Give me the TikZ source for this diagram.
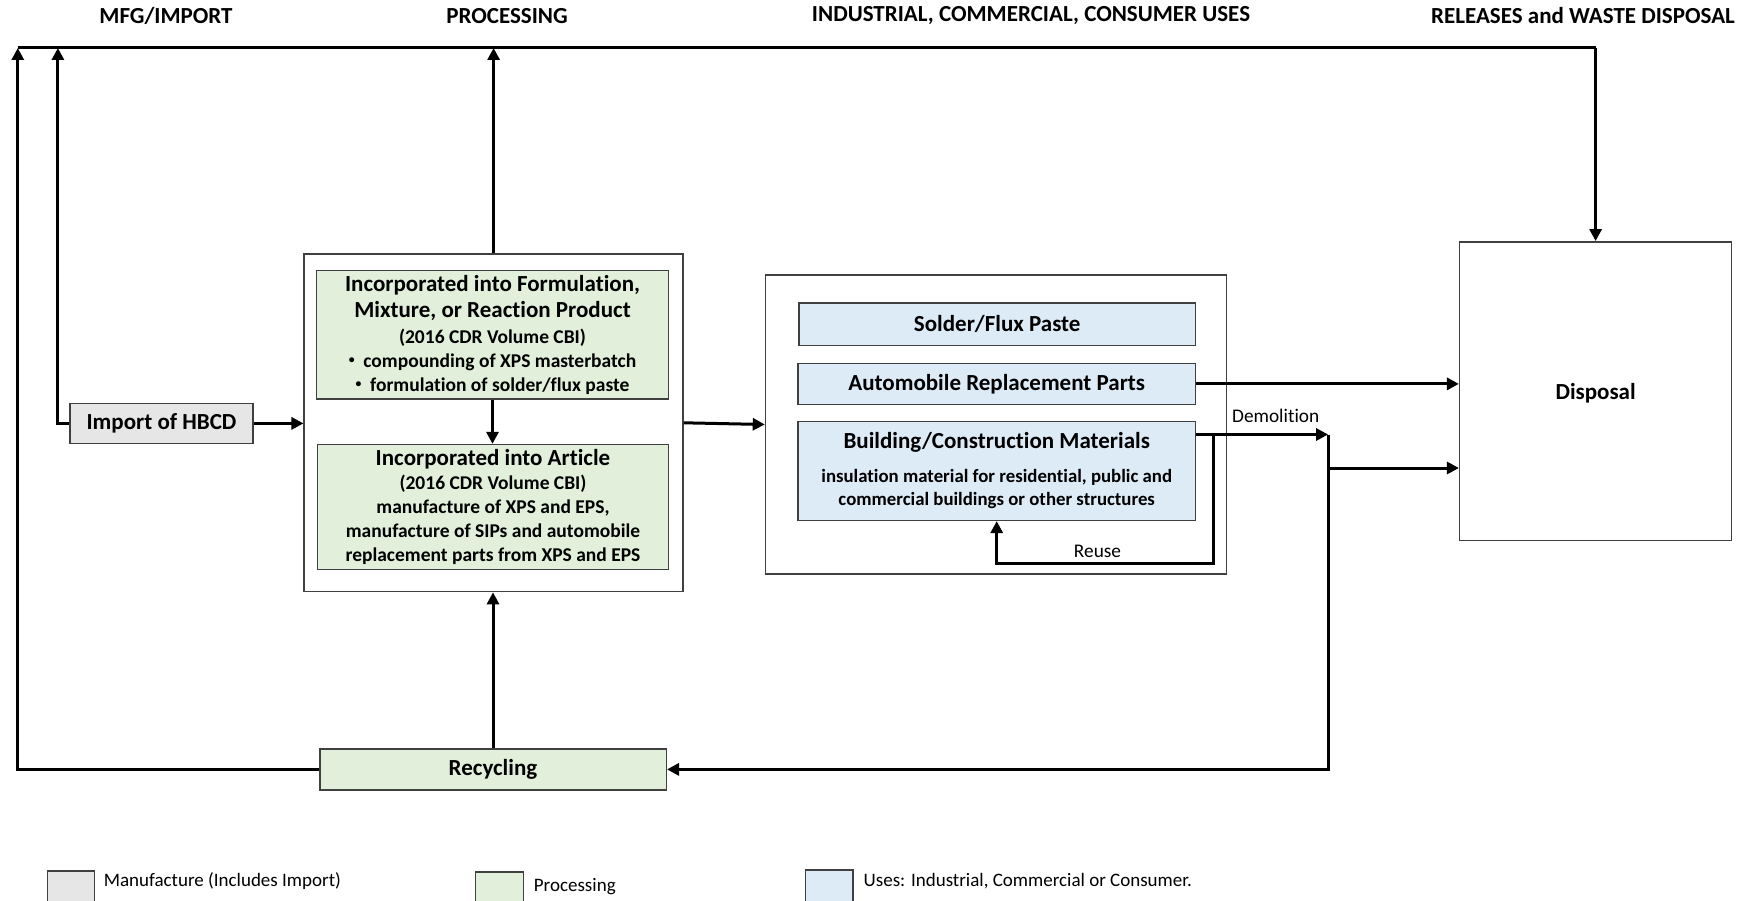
\documentclass[tikz,border=0pt]{standalone}
\usepackage{fontspec}
\setmainfont{Carlito}[Ligatures=NoCommon,Contextuals=NoAlternate]
\usetikzlibrary{arrows.meta}

\definecolor{mfggray}{RGB}{230,230,230}
\definecolor{procgreen}{RGB}{226,239,218}
\definecolor{useblue}{RGB}{221,235,247}
\definecolor{edgegray}{RGB}{64,64,64}

% small list bullet
\newcommand{\smallbul}{\raisebox{0.18em}{\scalebox{0.6}{\textbullet}}\hspace{0.45em}}

\begin{document}
\begin{tikzpicture}[x=1pt,y=-1pt,
  box/.style={draw=edgegray,line width=1.5pt,inner sep=0pt,align=center},
  mfgbox/.style={box,fill=mfggray},
  procbox/.style={box,fill=procgreen},
  usebox/.style={box,fill=useblue},
  framebox/.style={draw=edgegray,line width=1.5pt,fill=white,inner sep=0pt},
  header/.style={font=\fontsize{23}{26}\selectfont\bfseries},
  boxtitle/.style={font=\fontsize{23}{26}\selectfont\bfseries},
  lbl/.style={font=\fontsize{19.3}{22}\selectfont,inner sep=0pt},
  legtext/.style={font=\fontsize{19}{22}\selectfont,anchor=west,inner sep=0pt},
  wire/.style={line width=3pt},
  flow/.style={wire,-{Triangle[length=12pt,width=12pt]}}
]
\clip (0,0) rectangle (1747,901);
\useasboundingbox (0,0) rectangle (1747,901);

% column headers
\node[header] (hmfg) at (166,15.6) {MFG/IMPORT};
\node[header] (hproc) at (507,15.6) {PROCESSING};
\node[header] (huse) at (1031,15.6) {INDUSTRIAL, COMMERCIAL, CONSUMER USES};
\node[header] (hrel) at (1583,15.6) {RELEASES and WASTE DISPOSAL};

% manufacture
\node[mfgbox,boxtitle,minimum width=182.7pt,minimum height=40.2pt] (import) at (161.5,423.4) {Import of HBCD};

% processing
\node[framebox,minimum width=378.8pt,minimum height=337.6pt] (proc) at (493.6,422.8) {};
\node[procbox,minimum width=352.1pt,minimum height=128.2pt,
      font=\fontsize{19.5}{24}\selectfont\bfseries] (form) at (492.5,334.8)
  {{\fontsize{23}{24}\selectfont Incorporated into Formulation,}\\[2.5pt]
   {\fontsize{23}{24}\selectfont Mixture, or Reaction Product}\\[1.5pt]
   (2016 CDR Volume CBI)\\
   \smallbul compounding of XPS masterbatch\\
   \smallbul formulation of solder/flux paste};
\node[procbox,minimum width=351pt,minimum height=124.8pt,
      font=\fontsize{19.5}{24}\selectfont\bfseries] (art) at (493,507)
  {{\fontsize{23}{24}\selectfont Incorporated into Article}\\
   (2016 CDR Volume CBI)\\
   manufacture of XPS and EPS,\\
   manufacture of SIPs and automobile\\
   replacement parts from XPS and EPS};
\node[procbox,boxtitle,minimum width=346.5pt,minimum height=41.3pt] (recyc) at (493,769.4) {Recycling};

% uses
\node[framebox,minimum width=461.2pt,minimum height=298.6pt] (uses) at (996.1,424.5) {};
\node[usebox,boxtitle,minimum width=396.6pt,minimum height=42.4pt] (solder) at (997.2,324.2) {Solder/Flux Paste};
\node[usebox,boxtitle,minimum width=397.7pt,minimum height=41.3pt] (auto) at (996.7,383.9) {Automobile Replacement Parts};
\node[usebox,minimum width=397.7pt,minimum height=99.1pt,
      font=\fontsize{18.8}{23.4}\selectfont\bfseries] (build) at (996.7,470.8)
  {{\fontsize{23}{26}\selectfont Building/Construction Materials}\\[10pt]
   insulation material for residential, public and\\
   commercial buildings or other structures};

% disposal
\node[framebox,minimum width=271.9pt,minimum height=298.6pt] (disposal) at (1595.6,391.1) {};
\node[boxtitle] (disptext) at (1595.6,393.3) {Disposal};

% return line along the top
\coordinate (tl) at (17.8,48);
\coordinate (tl2) at (57.9,48);
\coordinate (tr) at (1595.6,48);
\draw[wire] (tl) -- (tr);
\draw[flow] (tr) -- (disposal.north);
\draw[flow] (recyc.west) -| (tl);
\draw[flow] (import.west) -| (tl2);
\draw[flow] (proc.north) -- (proc.north |- tl);

% main flow
\draw[flow] (import.east) -- (import.east -| proc.west);
\draw[flow] (form.south) -- (form.south |- art.north);
\draw[flow] (recyc.north) -- (recyc.north |- proc.south);
\draw[flow] (proc.east) -- (uses.west);
\draw[flow] (auto.east) -- (auto.east -| disposal.west);

% end of life of building materials
\coordinate (dem) at (1328.1,434.5);
\coordinate (br) at (1328.1,468);
\coordinate (ru) at (1213.4,434.5);
\coordinate (rb) at (1213.4,563.8);
\draw[flow] (build.east |- dem) -- (dem);
\draw[flow] (dem) |- (recyc.east);
\draw[flow] (br) -- (br -| disposal.west);
\draw[flow] (ru) -- (rb) -| (build.south);
\node[lbl] (demlbl) at (1275.7,415.6) {Demolition};
\node[lbl] (reuselbl) at (1097.5,551.5) {Reuse};

% legend
\node[mfgbox,minimum width=46.8pt,minimum height=60pt,anchor=north west] (legmfg) at (46.8,870) {};
\node[legtext] (legmfgt) at (103.6,881) {Manufacture (Includes Import)};
\node[procbox,minimum width=47.9pt,minimum height=60pt,anchor=north west] (legproc) at (474.6,871.3) {};
\node[legtext] (legproct) at (533.7,887) {Processing};
\node[usebox,minimum width=47.9pt,minimum height=60pt,anchor=north west] (leguse) at (804.5,869) {};
\node[legtext] (leguset) at (863.5,881) {Uses: Industrial, Commercial or Consumer.};
\end{tikzpicture}
\end{document}
